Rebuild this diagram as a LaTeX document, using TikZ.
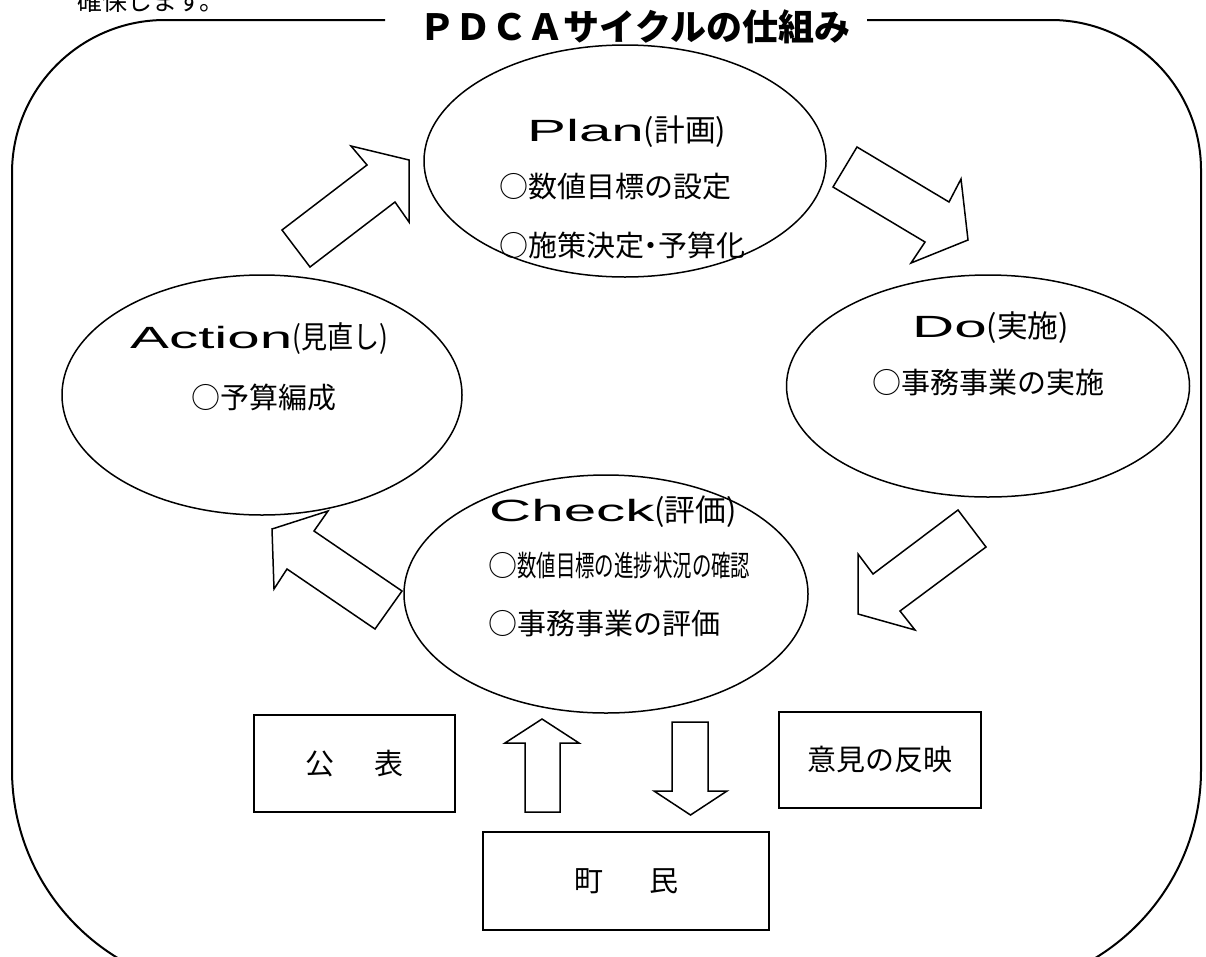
\documentclass[tikz,border=0pt]{standalone}
\usepackage{fontspec}
\usepackage{graphicx}
\setmainfont{Noto Sans CJK JP}
\newfontfamily\lat{Liberation Sans}
\usetikzlibrary{shapes.geometric}
\newcommand{\px}[1]{\fontsize{#1}{#1}\selectfont}
\newcommand{\wide}[1]{\scalebox{1.9}[1]{\lat #1}}
\begin{document}
\begin{tikzpicture}[x=1pt,y=-1pt,
  oval/.style={draw, ellipse, line width=1.5pt, inner sep=0pt},
  blk/.style={draw, line width=1.5pt, line join=miter},
  boxnode/.style={draw, line width=1.5pt, inner sep=0pt, font=\px{29}},
  txt/.style={inner sep=0pt, anchor=west, font=\px{29}},
  hdr/.style={inner sep=0pt, anchor=base west, font=\px{30.7}}]
\useasboundingbox (0,0) rectangle (1206,956);

% clipped text at top
\node[inner sep=0pt, anchor=base west, font=\px{25}] (prev) at (77,10) {確保します。};

% outer frame
\draw[line width=2pt] (385,20) -- (165,20)
  .. controls (80.5,20) and (12,88.5) .. (12,173)
  -- (12,770)
  .. controls (12,891.5) and (110.5,990) .. (232,990)
  -- (981,990)
  .. controls (1102.5,990) and (1201,891.5) .. (1201,770)
  -- (1201,170)
  .. controls (1201,87.2) and (1133.8,20) .. (1051,20)
  -- (867,20);
\node[inner sep=0pt, font=\px{36}\bfseries] (title) at (635,27) {ＰＤＣＡサイクルの仕組み};

% ellipses
\node[oval, minimum width=402pt, minimum height=232pt] (plan) at (625,161) {};
\node[oval, minimum width=403pt, minimum height=222pt] (do) at (988,386) {};
\node[oval, minimum width=400pt, minimum height=240pt] (act) at (262,395) {};
\node[oval, minimum width=404pt, minimum height=238pt] (chk) at (606,594) {};

% texts in ellipses
\node[hdr] (planh) at (527,141) {\wide{Plan}(計画)};
\node[txt] (plan1) at (499,187) {○数値目標の設定};
\node[txt] (plan2) at (499,245) {○施策決定\kern-0.25em・\kern-0.25em予算化};
\node[hdr] (doh) at (912,337) {\wide{Do}(実施)};
\node[txt] (do1) at (872,383) {○事務事業の実施};
\node[hdr] (acth) at (130,348) {\wide{Action}\scalebox{0.85}[1]{(見直し)}};
\node[txt] (act1) at (191,398) {○予算編成};
\node[hdr] (chkh) at (489,521) {\wide{Check}(評価)};
\node[txt] (chk1) at (488,565) {○\scalebox{0.67}[1]{数値目標の進捗状況の確認}};
\node[txt] (chk2) at (488,623) {○事務事業の評価};

% block arrows around the cycle
\draw[blk] (282,230) -- (367,165) -- (351,146) -- (409,160) -- (409,222) -- (395,202) -- (310,267) -- cycle;
\draw[blk] (857,147) -- (949,202) -- (961,179) -- (968,240) -- (911,263) -- (925,242) -- (833,187) -- cycle;
\draw[blk] (958,510) -- (873,574) -- (858,554) -- (858,614) -- (915,630) -- (900,611) -- (986,547) -- cycle;
\draw[blk] (402,591) -- (314,531) -- (328,511) -- (272,529) -- (274,589) -- (287,569) -- (375,629) -- cycle;

% bottom boxes
\node[boxnode, minimum width=201pt, minimum height=97pt] (kohyo) at (354.5,763.5) {公\hspace{40pt}表};
\node[boxnode, minimum width=202pt, minimum height=96pt] (iken) at (880,760) {意見の反映};
\node[boxnode, minimum width=286pt, minimum height=98pt] (chomin) at (626,881) {町\hspace{46pt}民};

% up / down arrows
\draw[blk] (525,812) -- (525,743) -- (505,743) -- (542,719) -- (579,743) -- (560,743) -- (560,812) -- cycle;
\draw[blk] (672,722) -- (708,722) -- (708,791) -- (727,791) -- (690.5,815) -- (654,791) -- (672,791) -- cycle;
\end{tikzpicture}
\end{document}
